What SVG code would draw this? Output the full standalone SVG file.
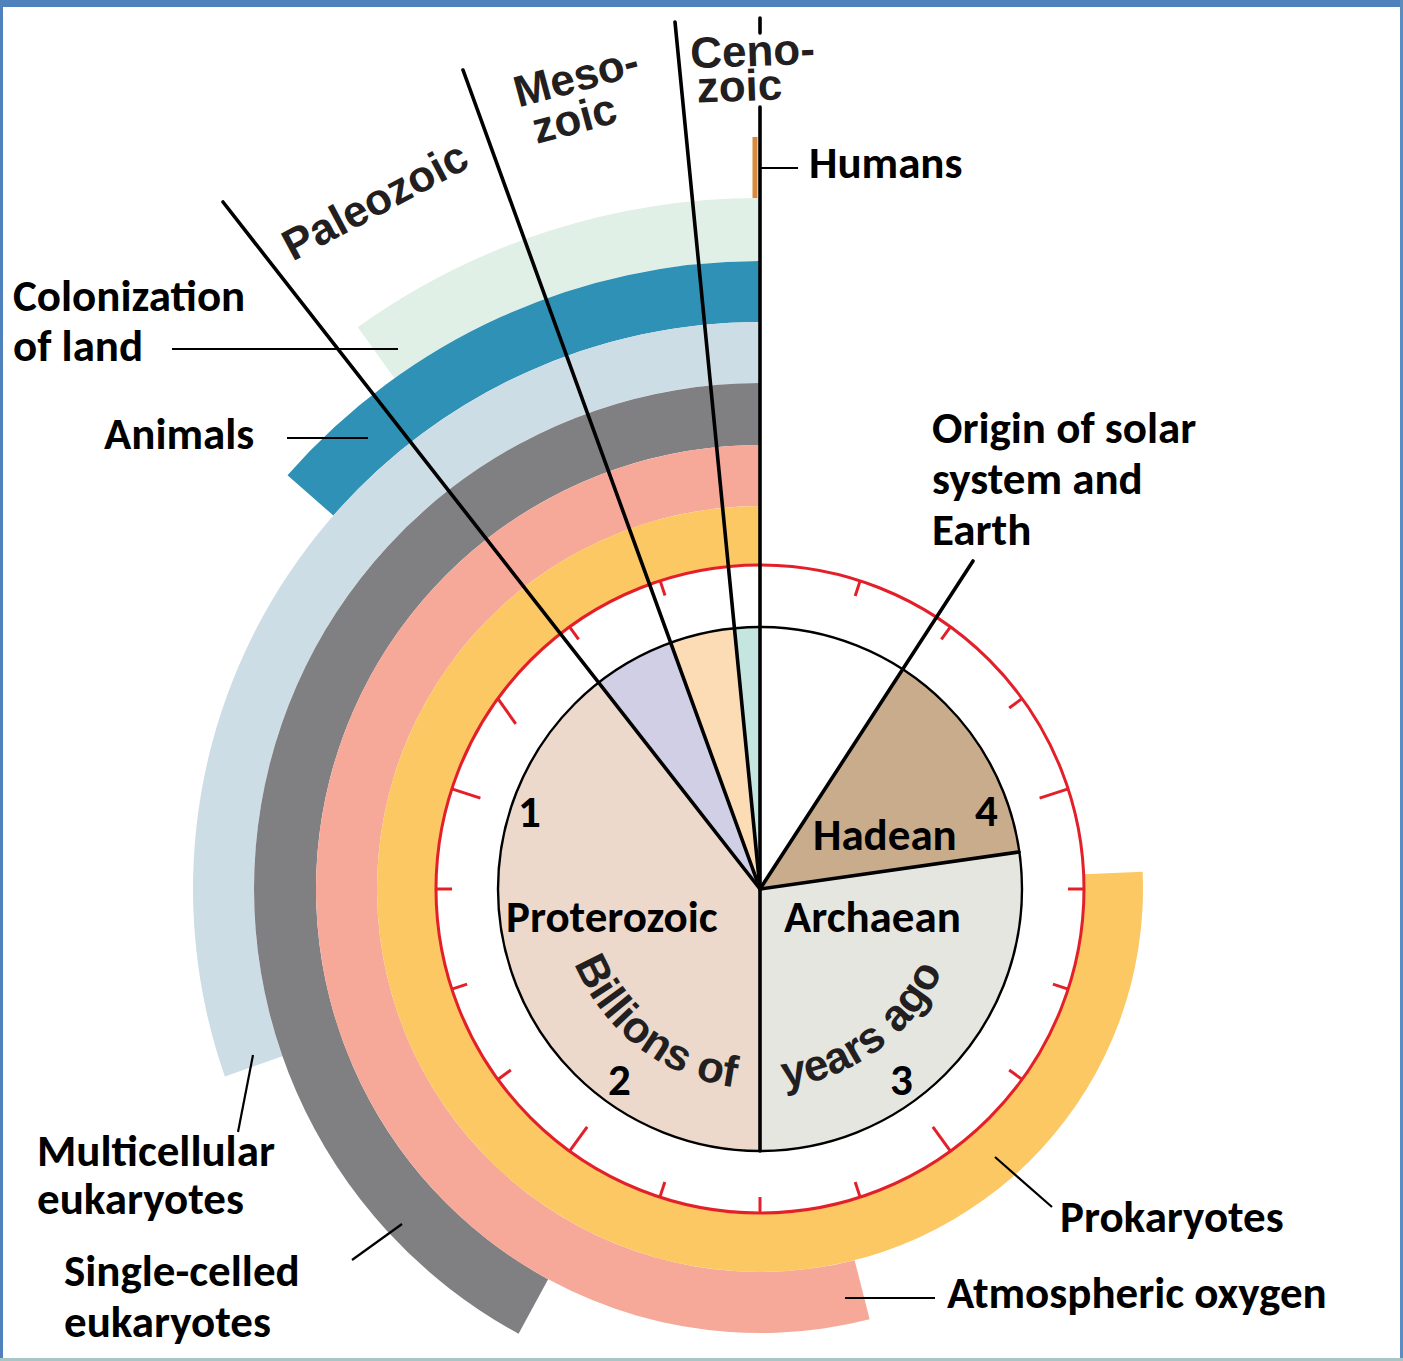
<svg xmlns="http://www.w3.org/2000/svg" width="1403" height="1361" viewBox="0 0 1403 1361">
  <defs>
    <style>
      .lbl { font-family: Carlito, Lato, "Open Sans", sans-serif; font-weight: 700; font-size: 45px; fill: #000; }
      .era { font-family: "Liberation Sans", Arial, sans-serif; font-weight: 700; font-size: 44px; fill: #231f20; }
      .lead { stroke: #000; stroke-width: 2.2; fill: none; }
      .radial { stroke: #000; stroke-width: 3.6; fill: none; stroke-linecap: round; }
      .tick { stroke: #e3202a; stroke-width: 3; }
    </style>
    <path id="yearsArc" d="M560,889 A200,200 0 0 0 960,889"/>
  </defs>

  <!-- page background and frame -->
  <rect x="0" y="0" width="1403" height="1361" fill="#ffffff"/>
  <rect x="0" y="0" width="1403" height="7" fill="#4f81bd"/>
  <rect x="0" y="0" width="3" height="1361" fill="#4f81bd"/>
  <rect x="1400" y="0" width="3" height="1361" fill="#5d8cc0"/>
  <rect x="0" y="1358" width="1403" height="3" fill="#a9c6c6"/>

  <!-- life-history bands (clockwise from the top = back in time) -->
  <g id="band-land"><path d="M760,198 A691,691 0 0 0 357.75,327.15 L394.43,378.37 A628,628 0 0 1 760,261 Z" fill="#e0f0e6"/></g>
  <g id="band-animals"><path d="M760,261 A628,628 0 0 0 287.49,475.34 L333.38,515.52 A567,567 0 0 1 760,322 Z" fill="#2e91b5"/></g>
  <g id="band-multicellular"><path d="M760,322 A567,567 0 0 0 224.87,1076.40 L282.44,1056.24 A506,506 0 0 1 760,383 Z" fill="#cddde6"/></g>
  <g id="band-single-celled"><path d="M760,383 A506,506 0 0 0 518.56,1333.68 L548.14,1279.20 A444,444 0 0 1 760,445 Z" fill="#808083"/></g>
  <g id="band-oxygen"><path d="M760,445 A444,444 0 1 0 869.67,1319.24 L854.60,1260.13 A383,383 0 1 1 760,506 Z" fill="#f6a899"/></g>
  <g id="band-prokaryotes"><path d="M760,506 A383,383 0 1 0 1142.61,871.63 L1083.67,874.30 A324,324 0 1 1 760,565 Z" fill="#fcc864"/></g>
  <g id="humans"><rect x="752.5" y="137" width="5" height="61" fill="#d98a3c"/></g>

  <!-- geological clock face -->
  <g id="clock">
    <circle cx="760" cy="889" r="324" fill="#ffffff" stroke="#e3202a" stroke-width="3"/>
    <g id="ticks" class="tick">
      <line x1="660.20" y1="580.86" x2="665.00" y2="595.55"/>
      <line x1="569.56" y1="626.88" x2="578.65" y2="639.38"/>
      <line x1="497.88" y1="698.56" x2="515.73" y2="723.83"/>
      <line x1="451.86" y1="788.88" x2="480.39" y2="798.15"/>
      <line x1="436" y1="889" x2="452" y2="889"/>
      <line x1="451.86" y1="989.12" x2="467.08" y2="984.18"/>
      <line x1="497.88" y1="1079.44" x2="510.83" y2="1070.04"/>
      <line x1="569.56" y1="1151.12" x2="587.19" y2="1126.85"/>
      <line x1="659.88" y1="1197.14" x2="664.82" y2="1181.92"/>
      <line x1="760" y1="1213" x2="760" y2="1197"/>
      <line x1="860.12" y1="1197.14" x2="855.18" y2="1181.92"/>
      <line x1="950.44" y1="1151.12" x2="932.81" y2="1126.85"/>
      <line x1="1022.12" y1="1079.44" x2="1009.17" y2="1070.04"/>
      <line x1="1068.14" y1="989.12" x2="1052.92" y2="984.18"/>
      <line x1="1084" y1="889" x2="1068" y2="889"/>
      <line x1="1068.14" y1="788.88" x2="1039.61" y2="798.15"/>
      <line x1="1022.12" y1="698.56" x2="1009.17" y2="707.96"/>
      <line x1="950.44" y1="626.88" x2="941.35" y2="639.38"/>
      <line x1="860.12" y1="580.86" x2="855.18" y2="596.08"/>
    </g>
  </g>

  <!-- eon / era pie -->
  <g id="pie">
    <path d="M760,889 L760,627 A262,262 0 0 0 734.89,628.21 Z" fill="#c5e5e0"/>
    <path d="M760,889 L734.89,628.21 A262,262 0 0 0 670.39,642.80 Z" fill="#fcdcb5"/>
    <path d="M760,889 L670.39,642.80 A262,262 0 0 0 598.70,682.54 Z" fill="#d0cfe6"/>
    <path d="M760,889 L598.70,682.54 A262,262 0 0 0 760,1151 Z" fill="#ecd9cc"/>
    <path d="M760,889 L760,1151 A262,262 0 0 0 1019.39,852.08 Z" fill="#e6e6e0"/>
    <path d="M760,889 L1019.39,852.08 A262,262 0 0 0 902.31,669.02 Z" fill="#c9ac8c"/>
    <circle cx="760" cy="889" r="262" fill="none" stroke="#000" stroke-width="2.4"/>
  </g>

  <!-- era boundaries and leader lines -->
  <g id="connectors">
    <line class="radial" x1="760" y1="889" x2="223" y2="202"/>
    <line class="radial" x1="760" y1="889" x2="463" y2="70"/>
    <line class="radial" x1="760" y1="889" x2="675" y2="22"/>
    <line class="radial" x1="760" y1="1151" x2="760" y2="107"/>
    <line class="radial" x1="760" y1="33" x2="760" y2="18"/>
    <line class="radial" x1="760" y1="889" x2="973" y2="561"/>
    <line class="radial" x1="760" y1="889" x2="1019" y2="852"/>
    <line class="lead" x1="760" y1="168" x2="798" y2="168"/>
    <line class="lead" x1="172" y1="349" x2="398" y2="349"/>
    <line class="lead" x1="287" y1="438" x2="368" y2="438"/>
    <line class="lead" x1="253" y1="1055" x2="238" y2="1132"/>
    <line class="lead" x1="352" y1="1260" x2="402" y2="1224"/>
    <line class="lead" x1="995" y1="1157" x2="1052" y2="1207"/>
    <line class="lead" x1="845" y1="1298" x2="935" y2="1298"/>
  </g>

  <!-- era names -->
  <g id="era-labels">
    <text class="era" text-anchor="middle" font-size="42" transform="translate(382,214) rotate(-28)">Paleozoic</text>
    <text class="era" text-anchor="middle" transform="translate(580,91) rotate(-15)">Meso-</text>
    <text class="era" text-anchor="middle" transform="translate(578,133) rotate(-15)">zoic</text>
    <text class="era" text-anchor="middle" transform="translate(753,66) rotate(-2)">Ceno-</text>
    <text class="era" text-anchor="middle" transform="translate(740,101) rotate(-2)">zoic</text>
    <text class="era"><textPath href="#yearsArc" startOffset="76">Billions of</textPath></text>
    <text class="era"><textPath href="#yearsArc" startOffset="338">years ago</textPath></text>
  </g>

  <!-- eon names and billion-year marks -->
  <g id="eon-labels" class="lbl">
    <text x="813" y="850">Hadean</text>
    <text x="506" y="932">Proterozoic</text>
    <text x="784" y="932">Archaean</text>
    <text x="975" y="826">4</text>
    <text x="518" y="827">1</text>
    <text x="608" y="1095">2</text>
    <text x="890" y="1095">3</text>
  </g>

  <!-- event labels -->
  <g id="label-humans" class="lbl"><text x="809" y="178">Humans</text></g>
  <g id="label-land" class="lbl"><text x="13" y="311">Colonization</text><text x="13" y="361">of land</text></g>
  <g id="label-animals" class="lbl"><text x="104" y="449">Animals</text></g>
  <g id="label-origin" class="lbl"><text x="932" y="443">Origin of solar</text><text x="932" y="494">system and</text><text x="932" y="545">Earth</text></g>
  <g id="label-multicellular" class="lbl"><text x="37" y="1166">Multicellular</text><text x="37" y="1214">eukaryotes</text></g>
  <g id="label-single-celled" class="lbl"><text x="64" y="1286">Single-celled</text><text x="64" y="1337">eukaryotes</text></g>
  <g id="label-prokaryotes" class="lbl"><text x="1060" y="1232">Prokaryotes</text></g>
  <g id="label-oxygen" class="lbl"><text x="947" y="1308">Atmospheric oxygen</text></g>
</svg>
